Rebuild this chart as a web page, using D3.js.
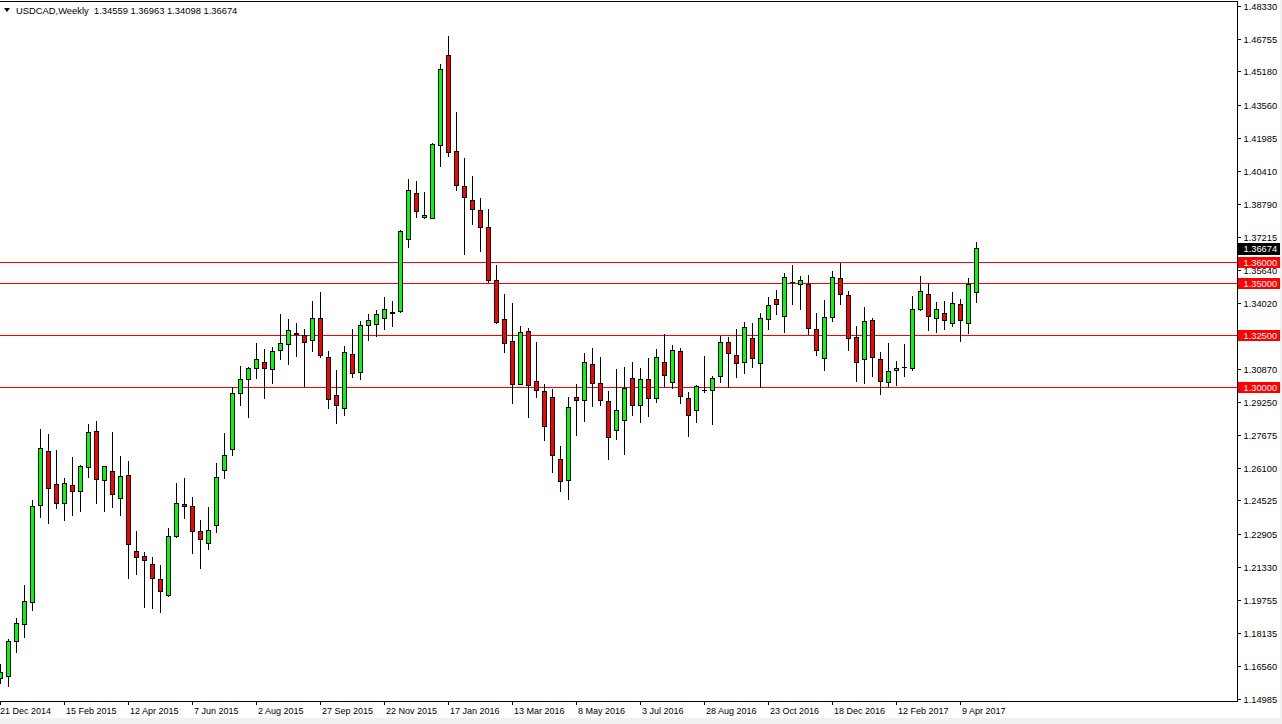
<!DOCTYPE html>
<html><head><meta charset="utf-8">
<script src="https://cdn.jsdelivr.net/npm/d3@7"></script>
<style>
html,body{margin:0;padding:0;background:#fff;}
svg{display:block;}
text{font-family:"Liberation Sans",Arial,sans-serif;font-size:9px;}
</style></head><body>
<svg id="c" width="1282" height="724"></svg>
<script>
const symbol = "USDCAD,Weekly";
const dateLabels = ["21 Dec 2014","15 Feb 2015","12 Apr 2015","7 Jun 2015","2 Aug 2015","27 Sep 2015","22 Nov 2015","17 Jan 2016","13 Mar 2016","8 May 2016","3 Jul 2016","28 Aug 2016","23 Oct 2016","18 Dec 2016","12 Feb 2017","9 Apr 2017"];
const dateLabelBars = [0,8,16,24,32,40,48,56,64,72,80,88,96,104,112,120];
const priceTicks = [1.48330,1.46755,1.45180,1.43560,1.41985,1.40410,1.38790,1.37215,1.35640,1.34020,1.32445,1.30870,1.29250,1.27675,1.26100,1.24525,1.22905,1.21330,1.19755,1.18135,1.16560,1.14985];
const levels = [1.36000,1.35000,1.32500,1.30000];

const opens = [1.1596,1.1606,1.1774,1.1856,1.1962,1.2429,1.2689,1.2530,1.2439,1.2525,1.2496,1.2612,1.2785,1.2549,1.2593,1.2463,1.2574,1.2207,1.2183,1.2145,
1.2073,1.1996,1.2280,1.2434,1.2424,1.2304,1.2246,1.2333,1.2598,1.2699,1.2968,1.3036,1.3089,1.3118,1.3084,1.3175,1.3204,1.3252,1.3248,1.3223,
1.3329,1.3142,1.2959,1.2896,1.3156,1.3069,1.3296,1.3301,1.3329,1.3353,1.3363,1.3710,1.3931,1.3816,1.3811,1.4162,1.4596,1.4133,1.3965,1.3898,
1.3849,1.3768,1.3512,1.3325,1.3219,1.3012,1.3267,1.3026,1.2978,1.2949,1.2650,1.2549,1.2949,1.2935,1.3108,1.3016,1.2930,1.2790,1.2838,1.3041,
1.2910,1.3036,1.2944,1.3118,1.3021,1.3170,1.2944,1.2886,1.2984,1.2984,1.3050,1.3214,1.3151,1.3118,1.3233,1.3113,1.3325,1.3421,1.3339,1.3503,
1.3496,1.3493,1.3276,1.3137,1.3334,1.3522,1.3440,1.3238,1.3132,1.3320,1.3132,1.3021,1.3079,1.3096,1.3089,1.3373,1.3445,1.3329,1.3353,1.3305,
1.3397,1.3305,1.34559];
const highs = [1.1664,1.1784,1.1885,1.2045,1.2455,1.2796,1.2772,1.2695,1.2559,1.2662,1.2623,1.2820,1.2835,1.2618,1.2782,1.2666,1.2642,1.2304,1.2203,1.2179,
1.2140,1.2318,1.2535,1.2559,1.2468,1.2357,1.2419,1.2631,1.2776,1.3000,1.3098,1.3095,1.3209,1.3180,1.3190,1.3349,1.3325,1.3305,1.3276,1.3411,
1.3455,1.3170,1.3079,1.3195,1.3276,1.3315,1.3349,1.3368,1.3430,1.3411,1.3753,1.3999,1.3989,1.3936,1.4172,1.4552,1.4687,1.4321,1.4100,1.4013,
1.3907,1.3854,1.3585,1.3445,1.3402,1.3291,1.3281,1.3214,1.3012,1.2987,1.2713,1.2949,1.3012,1.3161,1.3185,1.3142,1.2978,1.3084,1.3094,1.3118,
1.3089,1.3137,1.3180,1.3252,1.3199,1.3185,1.2973,1.3007,1.3146,1.3050,1.3243,1.3238,1.3276,1.3310,1.3305,1.3353,1.3430,1.3464,1.3546,1.3585,
1.3532,1.3537,1.3353,1.3416,1.3556,1.3594,1.3459,1.3291,1.3382,1.3329,1.3166,1.3209,1.3122,1.3204,1.3435,1.3533,1.3498,1.3406,1.3411,1.3455,
1.3421,1.3522,1.36963];
const lows = [1.1575,1.1561,1.1724,1.1796,1.1925,1.2374,1.2345,1.2417,1.2360,1.2384,1.2403,1.2567,1.2442,1.2403,1.2422,1.2384,1.2080,1.2100,1.1941,1.1936,
1.1917,1.1994,1.2275,1.2366,1.2198,1.2126,1.2217,1.2299,1.2559,1.2673,1.2913,1.2856,1.3043,1.2947,1.3019,1.3132,1.3111,1.3149,1.3005,1.3170,
1.3144,1.2896,1.2827,1.2864,1.3049,1.3036,1.3223,1.3243,1.3276,1.3291,1.3362,1.3671,1.3816,1.3811,1.3810,1.4061,1.4110,1.3946,1.3638,1.3782,
1.3652,1.3503,1.3309,1.3165,1.2920,1.3011,1.2853,1.2949,1.2742,1.2588,1.2496,1.2458,1.2766,1.2833,1.2906,1.2910,1.2650,1.2747,1.2675,1.2862,
1.2829,1.2858,1.2925,1.3002,1.2992,1.2920,1.2762,1.2829,1.2976,1.2819,1.3024,1.3000,1.3045,1.3065,1.3096,1.3000,1.3276,1.3349,1.3262,1.3397,
1.3373,1.3252,1.3151,1.3079,1.3315,1.3397,1.3175,1.3026,1.3016,1.3050,1.2963,1.3002,1.3007,1.3050,1.3079,1.3368,1.3272,1.3262,1.3276,1.3291,
1.3219,1.3257,1.34098];
const closes = [1.1625,1.1776,1.1861,1.1967,1.2424,1.2704,1.2511,1.2439,1.2535,1.2496,1.2617,1.2781,1.2554,1.2617,1.2482,1.2569,1.2241,1.2179,1.2164,1.2078,
1.2015,1.2280,1.2439,1.2424,1.2304,1.2265,1.2309,1.2564,1.2670,1.2968,1.3036,1.3089,1.3132,1.3089,1.3170,1.3209,1.3272,1.3257,1.3214,1.3329,
1.3151,1.2939,1.2910,1.3166,1.3065,1.3296,1.3320,1.3349,1.3373,1.3358,1.3748,1.3946,1.3845,1.3825,1.4167,1.4528,1.4129,1.3970,1.3912,1.3854,
1.3768,1.3512,1.3310,1.3209,1.3012,1.3262,1.3007,1.2983,1.2809,1.2670,1.2545,1.2901,1.2935,1.3118,1.3016,1.2935,1.2757,1.2886,1.2992,1.2910,
1.3036,1.2944,1.3142,1.3055,1.3175,1.2954,1.2862,1.3002,1.2984,1.3041,1.3214,1.3161,1.3113,1.3286,1.3137,1.3329,1.3392,1.3397,1.3527,1.3503,
1.3512,1.3281,1.3175,1.3334,1.3527,1.3445,1.3233,1.3118,1.3315,1.3142,1.3026,1.3074,1.3089,1.3096,1.3373,1.3459,1.3339,1.3373,1.3320,1.3402,
1.3320,1.3493,1.36674];

const svg = d3.select("#c");
const W = 1282, H = 724;
const plotRight = 1237, plotBottom = 701, plotTop = 1;
const n = opens.length;

const x = d3.scaleLinear().domain([0, n - 1]).range([0, 8 * (n - 1)]);
const y = d3.scaleLinear().domain([1.14985, 1.48330]).range([698.6, 6.0]);

// frame background strips
svg.append("rect").attr("x",0).attr("y",718).attr("width",W).attr("height",6).attr("fill","#f0f0f0");
svg.append("rect").attr("x",1280).attr("y",0).attr("width",2).attr("height",H).attr("fill","#f0f0f0");

const plot = svg.append("g");
const clipId = "plotclip";
svg.append("defs").append("clipPath").attr("id",clipId)
  .append("rect").attr("x",0).attr("y",plotTop).attr("width",plotRight).attr("height",plotBottom-plotTop);
plot.attr("clip-path",`url(#${clipId})`);

// level lines
plot.selectAll("line.lvl").data(levels).enter().append("line")
  .attr("x1",0).attr("x2",plotRight)
  .attr("y1",d=>Math.round(y(d))+0.5).attr("y2",d=>Math.round(y(d))+0.5)
  .attr("stroke","#ff0000").attr("stroke-width",1);

const bars = d3.range(n).map(i=>({i,o:opens[i],h:highs[i],l:lows[i],c:closes[i]}));
const px = i => Math.round(x(i)) + 0.5;

// wicks
plot.selectAll("line.wick").data(bars).enter().append("line")
  .attr("x1",d=>px(d.i)).attr("x2",d=>px(d.i))
  .attr("y1",d=>Math.round(y(d.h))).attr("y2",d=>Math.round(y(d.l))+1)
  .attr("stroke","#000").attr("stroke-width",1);

// bodies
bars.forEach(d=>{
  const t = Math.round(y(Math.max(d.o,d.c)));
  const b = Math.round(y(Math.min(d.o,d.c)));
  if (b - t < 1) {
    plot.append("line").attr("x1",px(d.i)-2.5).attr("x2",px(d.i)+2.5)
      .attr("y1",t+0.5).attr("y2",t+0.5).attr("stroke","#000").attr("stroke-width",1);
  } else {
    plot.append("rect").attr("x",px(d.i)-2).attr("y",t+0.5)
      .attr("width",4).attr("height",b-t)
      .attr("fill", d.c >= d.o ? "#00ff00" : "#ff0000")
      .attr("stroke","#000").attr("stroke-width",1);
  }
});

// frame lines
svg.append("line").attr("x1",0).attr("x2",plotRight+0.5).attr("y1",plotTop+0.5).attr("y2",plotTop+0.5).attr("stroke","#000");
svg.append("line").attr("x1",0).attr("x2",plotRight+0.5).attr("y1",plotBottom+0.5).attr("y2",plotBottom+0.5).attr("stroke","#000");
svg.append("line").attr("x1",plotRight+0.5).attr("x2",plotRight+0.5).attr("y1",plotTop).attr("y2",plotBottom+1).attr("stroke","#000");

// price axis ticks & labels
const pa = svg.append("g");
priceTicks.forEach(v=>{
  const yy = Math.round(y(v))+0.5;
  pa.append("line").attr("x1",plotRight).attr("x2",plotRight+4).attr("y1",yy).attr("y2",yy).attr("stroke","#000");
  pa.append("text").attr("x",1243.5).attr("y",yy+3.2).attr("fill","#000").style("font-size","9.3px").text(v.toFixed(5));
});

// level labels
levels.forEach(v=>{
  const yy = Math.round(y(v));
  pa.append("rect").attr("x",1238).attr("y",yy-5).attr("width",42).attr("height",11).attr("fill","#ff0000");
  pa.append("text").attr("x",1243.5).attr("y",yy+3.7).attr("fill","#fff").style("font-size","9.3px").text(v.toFixed(5));
});
// current price label
{
  const v = closes[n-1];
  const yy = Math.round(y(v));
  pa.append("rect").attr("x",1238).attr("y",yy-5).attr("width",42).attr("height",12).attr("fill","#000");
  pa.append("text").attr("x",1243.5).attr("y",yy+4).attr("fill","#fff").style("font-size","9.3px").text(v.toFixed(5));
}

// time axis
const ta = svg.append("g");
dateLabelBars.forEach((bi,k)=>{
  const xx = px(bi);
  ta.append("line").attr("x1",xx).attr("x2",xx).attr("y1",plotBottom).attr("y2",plotBottom+4).attr("stroke","#000");
  ta.append("text").attr("x",k === 0 ? 0 : xx+1.5).attr("y",714).attr("fill","#000").text(dateLabels[k]);
});

// header
svg.append("path").attr("d","M4,8 L10,8 L7,12 Z").attr("fill","#000");
svg.append("text").attr("x",16).attr("y",14).attr("fill","#000").style("font-size","9.4px")
  .text(`${symbol}  ${opens[n-1].toFixed(5)} ${highs[n-1].toFixed(5)} ${lows[n-1].toFixed(5)} ${closes[n-1].toFixed(5)}`)
  .attr("xml:space","preserve").style("white-space","pre");
</script>
</body></html>
